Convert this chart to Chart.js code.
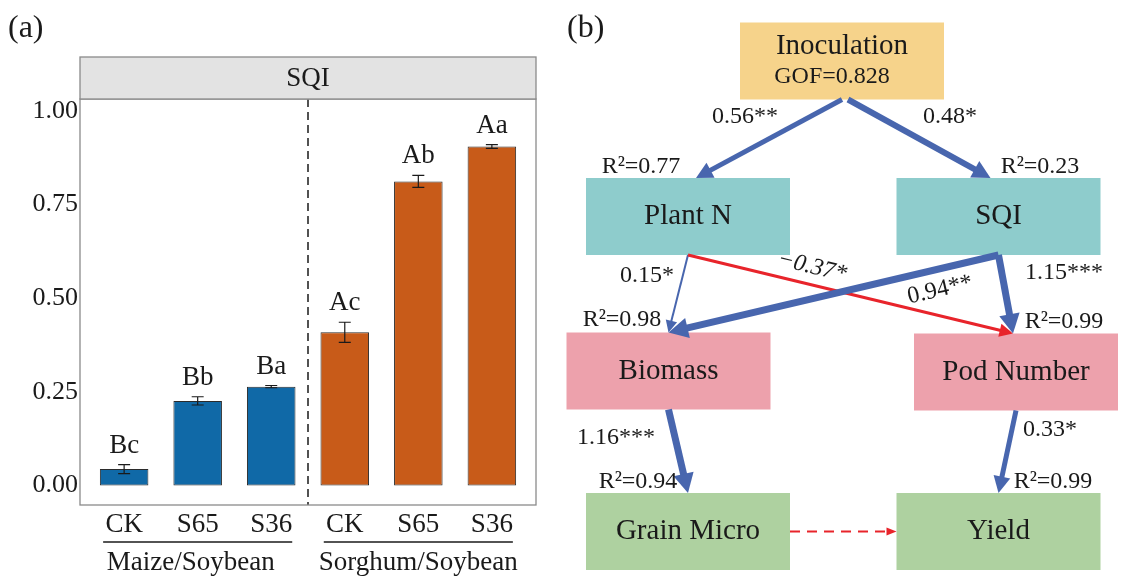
<!DOCTYPE html>
<html>
<head>
<meta charset="utf-8">
<script src="https://cdn.jsdelivr.net/npm/chart.js@4.4.1/dist/chart.umd.min.js"></script>
<style>
  html, body { margin: 0; padding: 0; background: #fff; }
  #wrap { position: relative; width: 1127px; height: 588px; }
  canvas { position: absolute; top: 0; }
  #bars { left: 0; }
  #path { left: 560px; }
</style>
</head>
<body>
<div id="wrap">
  <canvas id="bars" width="560" height="588"></canvas>
  <canvas id="path" width="567" height="588"></canvas>
</div>
<script>
const SERIF = '"Liberation Serif", "Times New Roman", serif';
const INK = '#1a1a1a';

// ---- (a) SQI per treatment ----
const treatments = ['CK', 'S65', 'S36', 'CK', 'S65', 'S36'];
const systems = ['Maize/Soybean', 'Sorghum/Soybean'];
const systemOf = [0, 0, 0, 1, 1, 1];
const sqiMean = [0.044, 0.226, 0.264, 0.409, 0.812, 0.905];
const sqiErr = [0.012, 0.011, 0.003, 0.027, 0.016, 0.005];
const letters = ['Bc', 'Bb', 'Ba', 'Ac', 'Ab', 'Aa'];
const yTicks = [0, 0.25, 0.5, 0.75, 1];

// ---- (b) path model ----
const nodes = ['Inoculation', 'Plant N', 'SQI', 'Biomass', 'Pod Number', 'Grain Micro', 'Yield'];
const nodeR2 = [null, 0.77, 0.23, 0.98, 0.99, 0.94, 0.99];
const gof = 0.828;
const pathFrom = [0, 0, 1, 1, 2, 2, 3, 4, 5];
const pathTo = [1, 2, 3, 4, 3, 4, 5, 6, 6];
const pathCoef = [0.56, 0.48, 0.15, -0.37, 0.94, 1.15, 1.16, 0.33, null];
const pathStars = ['**', '*', '*', '*', '**', '***', '***', '*', ''];

// ---- look / layout ----
const groupColors = ['#1069a7', '#c85b19'];
const nodeFill = ['#f6d38b', '#8ecccc', '#8ecccc', '#eda1ac', '#eda1ac', '#aed1a0', '#aed1a0'];
const nodeXY = [[282, 61], [128, 216.5], [438.5, 216.5], [108.5, 371], [456, 372], [128, 531.5], [438.5, 531.5]];
const boxW = 204, boxH = 77;
const r2XY = [null, [81, 167], [480, 167], [62, 320], [504, 322], [78, 482], [493, 482]];
const pathWidth = [5, 6, 2, 3, 7, 7, 7, 5, 2];
const pathDx = [[0, 8], [6, -8], [0, 0], [0, -3], [0, 0], [0, -3], [0, 0], [0, 0], [0, 0]];
const coefXY = [[185, 117], [390, 117], [87, 276], [252, 267], [380, 290], [504, 273], [56, 438], [490, 430], null];
const coefRot = [0, 0, 0, 13.5, -13, 0, 0, 0, 0];
const BLUE = '#4866ae', RED = '#e8242b';

Chart.defaults.color = INK;
Chart.defaults.font.family = SERIF;

const barDecor = {
  id: 'barDecor',
  afterDatasetsDraw(chart) {
    const { ctx, chartArea: a, scales: { x, y } } = chart;
    ctx.save();
    ctx.fillStyle = INK;
    ctx.strokeStyle = INK;

    // error bars + letters
    ctx.lineWidth = 1.2;
    ctx.font = '27px ' + SERIF;
    ctx.textAlign = 'center';
    ctx.textBaseline = 'middle';
    sqiMean.forEach((m, i) => {
      const px = x.getPixelForValue(i + 1);
      const yt = y.getPixelForValue(m + sqiErr[i]);
      const yb = y.getPixelForValue(m - sqiErr[i]);
      ctx.beginPath();
      ctx.moveTo(px, yt); ctx.lineTo(px, yb);
      ctx.moveTo(px - 6, yt); ctx.lineTo(px + 6, yt);
      ctx.moveTo(px - 6, yb); ctx.lineTo(px + 6, yb);
      ctx.stroke();
      ctx.fillText(letters[i], px, yt - 19);
    });

    // dashed separator between the two systems
    const sx = x.getPixelForValue(3.5);
    ctx.setLineDash([8, 5]);
    ctx.lineWidth = 1.5;
    ctx.beginPath();
    ctx.moveTo(sx, a.top); ctx.lineTo(sx, a.bottom);
    ctx.stroke();
    ctx.setLineDash([]);

    // panel border and strip
    ctx.strokeStyle = '#8a8a8a';
    ctx.lineWidth = 1.3;
    ctx.strokeRect(a.left, a.top, a.right - a.left, a.bottom - a.top);
    ctx.fillStyle = '#e3e3e3';
    ctx.fillRect(a.left, 57, a.right - a.left, a.top - 57);
    ctx.strokeRect(a.left, 57, a.right - a.left, a.top - 57);
    ctx.fillStyle = INK;
    ctx.fillText('SQI', (a.left + a.right) / 2, 79);

    // system labels under the ticks
    ctx.strokeStyle = INK;
    ctx.lineWidth = 1.5;
    systems.forEach((s, g) => {
      const idx = systemOf.map((v, i) => v === g ? i + 1 : null).filter(v => v !== null);
      const x0 = x.getPixelForValue(idx[0]) - 21;
      const x1 = x.getPixelForValue(idx[idx.length - 1]) + 21;
      ctx.beginPath();
      ctx.moveTo(x0, 542); ctx.lineTo(x1, 542);
      ctx.stroke();
      ctx.fillText(s, (x0 + x1) / 2 + (g === 0 ? -7 : 0), 563);
    });

    ctx.font = '32px ' + SERIF;
    ctx.textAlign = 'left';
    ctx.fillText('(a)', 8, 29);
    ctx.restore();
  }
};

new Chart(document.getElementById('bars'), {
  type: 'bar',
  data: {
    datasets: [{
      data: sqiMean.map((v, i) => ({ x: i + 1, y: v })),
      backgroundColor: systemOf.map(g => groupColors[g]),
      borderColor: '#2b2b2b',
      borderWidth: 1,
      borderSkipped: false,
      categoryPercentage: 1,
      barPercentage: 0.66
    }]
  },
  options: {
    responsive: false,
    animation: false,
    devicePixelRatio: 1,
    layout: { padding: { top: 99, right: 24, left: 0, bottom: 0 } },
    plugins: { legend: { display: false }, tooltip: { enabled: false } },
    scales: {
      x: {
        type: 'linear',
        min: 0.4,
        max: 6.6,
        offset: false,
        grid: { display: false, drawTicks: false, offset: false },
        border: { display: false },
        afterBuildTicks: s => { s.ticks = treatments.map((t, i) => ({ value: i + 1 })); },
        afterFit: s => { s.height = 83; },
        ticks: {
          font: { size: 27 },
          color: INK,
          padding: 4,
          maxRotation: 0,
          callback: v => treatments[v - 1]
        }
      },
      y: {
        min: -0.052,
        max: 1.032,
        grid: { display: false, drawTicks: false },
        border: { display: false },
        afterBuildTicks: s => { s.ticks = yTicks.map(v => ({ value: v })); },
        afterFit: s => { s.width = 80; },
        ticks: {
          font: { size: 26 },
          color: INK,
          padding: 2,
          callback: v => v.toFixed(2)
        }
      }
    }
  },
  plugins: [barDecor]
});

// ---- (b) ----
function arrow(ctx, x1, y1, x2, y2, w, color, dashed) {
  const ang = Math.atan2(y2 - y1, x2 - x1);
  const hl = dashed ? 10 : 9 + 1.5 * w;
  const hw = dashed ? 4 : 4 + 0.9 * w;
  const bx = x2 - hl * 0.85 * Math.cos(ang);
  const by = y2 - hl * 0.85 * Math.sin(ang);
  ctx.save();
  ctx.strokeStyle = color;
  ctx.fillStyle = color;
  ctx.lineWidth = w;
  if (dashed) ctx.setLineDash([10, 7]);
  ctx.beginPath();
  ctx.moveTo(x1, y1); ctx.lineTo(bx, by);
  ctx.stroke();
  ctx.setLineDash([]);
  const hx = x2 - hl * Math.cos(ang), hy = y2 - hl * Math.sin(ang);
  ctx.beginPath();
  ctx.moveTo(x2, y2);
  ctx.lineTo(hx + hw * Math.sin(ang), hy - hw * Math.cos(ang));
  ctx.lineTo(hx - hw * Math.sin(ang), hy + hw * Math.cos(ang));
  ctx.closePath();
  ctx.fill();
  ctx.restore();
}

const pathDecor = {
  id: 'pathDecor',
  afterDatasetsDraw(chart) {
    const { ctx, scales: { x, y } } = chart;
    const P = (px, py) => [x.getPixelForValue(px), y.getPixelForValue(py)];
    ctx.save();
    ctx.textAlign = 'center';
    ctx.textBaseline = 'middle';

    // boxes
    nodes.forEach((n, i) => {
      const [cx, cy] = nodeXY[i];
      const [l, t] = P(cx - boxW / 2, cy - boxH / 2);
      const [r, b] = P(cx + boxW / 2, cy + boxH / 2);
      ctx.fillStyle = nodeFill[i];
      ctx.fillRect(l, t, r - l, b - t);
      ctx.fillStyle = INK;
      ctx.font = '29px ' + SERIF;
      if (i === 0) {
        ctx.fillText(n, ...P(cx, cy - 15));
        ctx.font = '24px ' + SERIF;
        ctx.fillText('GOF=' + gof.toFixed(3), ...P(cx - 10, cy + 16));
      } else {
        ctx.fillText(n, ...P(cx, cy));
      }
    });

    // paths
    pathFrom.forEach((f, k) => {
      const t = pathTo[k];
      const [fx, fy] = nodeXY[f], [tx, ty] = nodeXY[t];
      let a, b;
      if (Math.abs(fy - ty) < 1) {
        a = [fx + boxW / 2, fy]; b = [tx - boxW / 2, ty];
      } else {
        a = [fx + pathDx[k][0], fy + boxH / 2]; b = [tx + pathDx[k][1], ty - boxH / 2];
      }
      const c = pathCoef[k];
      const color = (c === null || c < 0) ? RED : BLUE;
      arrow(ctx, ...P(...a), ...P(...b), pathWidth[k], color, c === null);
    });

    // coefficient labels
    ctx.fillStyle = INK;
    pathCoef.forEach((c, k) => {
      if (c === null) return;
      const txt = (c < 0 ? '\u2212' : '') + Math.abs(c).toFixed(2) + pathStars[k];
      ctx.font = (c < 0 ? 'italic ' : '') + '24px ' + SERIF;
      ctx.save();
      ctx.translate(...P(...coefXY[k]));
      ctx.rotate(coefRot[k] * Math.PI / 180);
      ctx.fillText(txt, 0, 0);
      ctx.restore();
    });

    // R2 labels
    ctx.font = '24px ' + SERIF;
    nodeR2.forEach((r, i) => {
      if (r === null) return;
      ctx.fillText('R\u00b2=' + r.toFixed(2), ...P(...r2XY[i]));
    });

    ctx.font = '32px ' + SERIF;
    ctx.textAlign = 'left';
    ctx.fillText('(b)', 7, 29);
    ctx.restore();
  }
};

new Chart(document.getElementById('path'), {
  type: 'scatter',
  data: {
    datasets: [{
      data: nodeXY.map(p => ({ x: p[0], y: p[1] })),
      pointRadius: 0
    }]
  },
  options: {
    responsive: false,
    animation: false,
    devicePixelRatio: 1,
    layout: { padding: 0 },
    plugins: { legend: { display: false }, tooltip: { enabled: false } },
    scales: {
      x: { type: 'linear', min: 0, max: 567, display: false },
      y: { type: 'linear', min: 0, max: 588, reverse: true, display: false }
    }
  },
  plugins: [pathDecor]
});
</script>
</body>
</html>
